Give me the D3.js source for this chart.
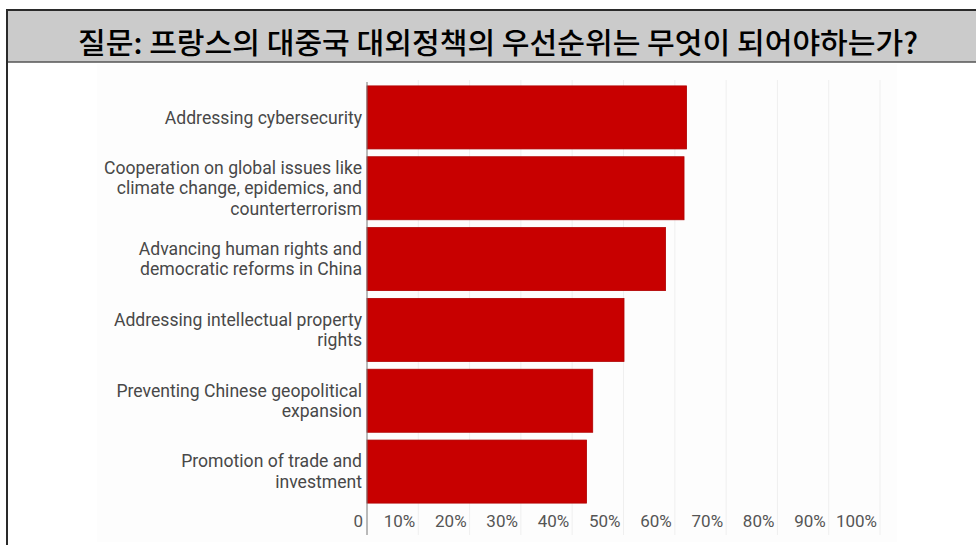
<!DOCTYPE html>
<html>
<head>
<meta charset="utf-8">
<script src="https://d3js.org/d3.v7.min.js"></script>
<style>
  html, body { margin: 0; padding: 0; background: #fff; }
  svg { display: block; }
</style>
</head>
<body>
<svg id="chart" width="976" height="545"></svg>
<script>
// Survey question and answer options
const title = "질문: 프랑스의 대중국 대외정책의 우선순위는 무엇이 되어야하는가?";

const categories = [
  "Addressing cybersecurity",
  "Cooperation on global issues like climate change, epidemics, and counterterrorism",
  "Advancing human rights and democratic reforms in China",
  "Addressing intellectual property rights",
  "Preventing Chinese geopolitical expansion",
  "Promotion of trade and investment"
];

// Wrapped label lines for each category
const categoryLines = [
  ["Addressing cybersecurity"],
  ["Cooperation on global issues like", "climate change, epidemics, and", "counterterrorism"],
  ["Advancing human rights and", "democratic reforms in China"],
  ["Addressing intellectual property", "rights"],
  ["Preventing Chinese geopolitical", "expansion"],
  ["Promotion of trade and", "investment"]
];

// Share of respondents naming each priority
const values = [0.623, 0.618, 0.582, 0.501, 0.440, 0.428];

const tickValues = [0, 0.1, 0.2, 0.3, 0.4, 0.5, 0.6, 0.7, 0.8, 0.9, 1.0];

const svg = d3.select("#chart");

// Outer frame and header band
svg.append("rect")
  .attr("x", 7).attr("y", 10).attr("width", 976).attr("height", 52)
  .attr("fill", "#cbcbcb");
svg.append("line")
  .attr("x1", 6).attr("x2", 976).attr("y1", 10).attr("y2", 10)
  .attr("stroke", "#2a2a2a").attr("stroke-width", 2);
svg.append("line")
  .attr("x1", 6).attr("x2", 976).attr("y1", 62).attr("y2", 62)
  .attr("stroke", "#555").attr("stroke-width", 1.5);
svg.append("line")
  .attr("x1", 7).attr("x2", 7).attr("y1", 9).attr("y2", 545)
  .attr("stroke", "#2a2a2a").attr("stroke-width", 2);

svg.append("text")
  .attr("x", 498).attr("y", 54)
  .attr("text-anchor", "middle")
  .attr("font-family", "'Noto Sans CJK KR', sans-serif")
  .attr("font-size", 29)
  .attr("font-weight", 500)
  .attr("textLength", 840)
  .attr("lengthAdjust", "spacingAndGlyphs")
  .attr("fill", "#000")
  .text(title);

// Plot background
svg.append("rect")
  .attr("x", 97).attr("y", 64).attr("width", 800).attr("height", 478)
  .attr("fill", "#fdfdfd");

const x = d3.scaleLinear().domain([0, 1]).range([367, 880]);
const y = d3.scaleBand().domain(categories).range([82, 507])
  .paddingInner(0.11).paddingOuter(0.055);

// Vertical gridlines
svg.append("g").selectAll("line")
  .data(tickValues.slice(1))
  .join("line")
  .attr("x1", d => x(d)).attr("x2", d => x(d))
  .attr("y1", 80).attr("y2", 535)
  .attr("stroke", "#efefef").attr("stroke-width", 1);

// Bars
svg.append("g").selectAll("rect")
  .data(values)
  .join("rect")
  .attr("x", x(0))
  .attr("y", (d, i) => y(categories[i]))
  .attr("width", d => x(d) - x(0))
  .attr("height", y.bandwidth())
  .attr("fill", "#c80000")
  .attr("stroke", "#b00000")
  .attr("stroke-width", 0.8);

// Value axis line
svg.append("line")
  .attr("x1", x(0)).attr("x2", x(0))
  .attr("y1", 82).attr("y2", 535)
  .attr("stroke", "#777").attr("stroke-width", 1);

// Category labels
const lineH = 20.5;
const lab = svg.append("g")
  .attr("font-family", "Roboto, sans-serif")
  .attr("font-size", 17.6)
  .attr("fill", "#484848")
  .attr("text-anchor", "end");
categories.forEach((c, i) => {
  const lines = categoryLines[i];
  const cy = y(c) + y.bandwidth() / 2;
  const t = lab.append("text").attr("x", 362);
  lines.forEach((ln, j) => {
    t.append("tspan")
      .attr("x", 362)
      .attr("y", cy + (j - (lines.length - 1) / 2) * lineH)
      .attr("dy", "0.35em")
      .text(ln);
  });
});

// Tick labels on the value axis
const fmt = v => v === 0 ? "0" : d3.format(".0%")(v);
svg.append("g")
  .attr("font-family", "Roboto, sans-serif")
  .attr("font-size", 17)
  .attr("fill", "#555")
  .attr("text-anchor", "end")
  .selectAll("text")
  .data(tickValues)
  .join("text")
  .attr("x", d => x(d) - (d === 0 ? 4 : 3))
  .attr("y", 527)
  .text(fmt);
</script>
</body>
</html>
